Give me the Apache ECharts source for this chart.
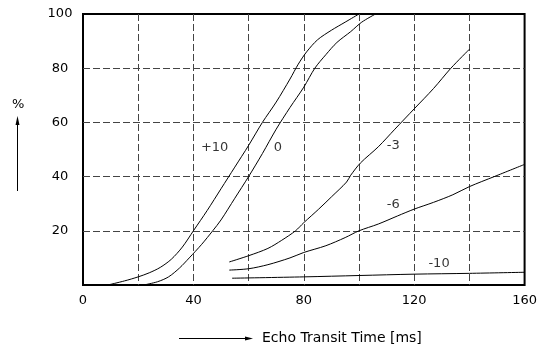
<!DOCTYPE html>
<html>
<head>
<meta charset="utf-8">
<script src="https://cdn.jsdelivr.net/npm/echarts@6/dist/echarts.min.js"></script>
<style>
  html, body { margin: 0; padding: 0; background: #fff; }
  #chart { width: 540px; height: 349px; }
</style>
</head>
<body>
<div id="chart"></div>
<script>
// Echo detection probability (%) vs. echo transit time (ms), one curve per level setting
const curvePlus10 = [[9,0],[15,1.5],[20,3],[24,4.5],[28,6.5],[32,9.5],[36,14],[40,20],[45,27.5],[50,35.5],[55,43.5],[60,51.5],[65,60],[70,67.5],[75,76],[78,81.5],[81,86],[85,90.5],[90,94],[95,97],[100,100]];
const curve0 = [[22,0],[27,1.2],[31,3],[35,6.3],[38.5,10],[43,15],[47,20],[50,24],[55,32],[60,40],[65,48.5],[70,57.5],[75,65.5],[80,73],[84,80],[88,85],[92,89.5],[97,93.5],[101,97],[106,100]];
const curveMinus3 = [[53,8.5],[60,10.8],[67,13.5],[72,16.5],[77,20],[80,23],[85.4,28],[90,32.5],[95.5,38],[97,40.5],[100.5,45],[107,51],[113,57.5],[120,65],[127,72.5],[133.3,80],[140,87]];
const curveMinus6 = [[53,5.5],[60,6],[67,7.5],[75,10],[80,12],[88,14.5],[95,17.5],[100,20],[107,22.5],[114,25.5],[120,28],[127,30.5],[134,33.3],[140,36.3],[149,40],[160,44.5]];
const curveMinus10 = [[54,2.5],[80,3],[100,3.5],[120,4],[140,4.3],[160,4.7]];

// Curve captions placed in data coordinates
const captionText = ['+10', '0', '-3', '-6', '-10'];
const captionX = [47.7, 70.6, 112.4, 112.4, 129];
const captionY = [50.7, 50.7, 51.5, 29.7, 7.9];

// Axis settings
const xMin = 0, xMax = 160, xStep = 20, xLabelStep = 40;
const yMin = 0, yMax = 100, yStep = 20;
const xTitle = 'Echo Transit Time [ms]';
const yTitle = '%';

const FONT = 'DejaVu Sans';

const chart = echarts.init(document.getElementById('chart'), null, { renderer: 'canvas' });

function curveSeries(data) {
  return {
    type: 'line',
    data: data,
    smooth: 0.3,
    showSymbol: false,
    symbol: 'none',
    lineStyle: { color: '#000', width: 1 },
    z: 3,
    silent: true
  };
}

const captionData = captionText.map((t, i) => ({ value: [captionX[i], captionY[i]], name: t }));

chart.setOption({
  animation: false,
  backgroundColor: '#fff',
  grid: {
    left: 83, right: 13, top: 14, bottom: 64,
    show: true, borderColor: '#000', borderWidth: 2, backgroundColor: 'transparent'
  },
  xAxis: {
    type: 'value',
    min: xMin, max: xMax, interval: xStep,
    axisLine: { show: false },
    axisTick: { show: false },
    axisLabel: {
      color: '#000', fontFamily: FONT, fontSize: 13, margin: 9,
      formatter: v => (v % xLabelStep === 0 ? String(v) : '')
    },
    splitLine: {
      show: true, showMinLine: false, showMaxLine: false,
      lineStyle: { color: '#444', width: 1, type: [7, 3] }
    }
  },
  yAxis: {
    type: 'value',
    min: yMin, max: yMax, interval: yStep,
    axisLine: { show: false },
    axisTick: { show: false },
    axisLabel: {
      color: '#000', fontFamily: FONT, fontSize: 13, margin: 23, align: 'center',
      formatter: v => (v === 0 ? '' : String(v))
    },
    splitLine: {
      show: true, showMinLine: false, showMaxLine: false,
      lineStyle: { color: '#444', width: 1, type: [7, 3] }
    }
  },
  series: [
    curveSeries(curvePlus10),
    curveSeries(curve0),
    curveSeries(curveMinus3),
    curveSeries(curveMinus6),
    curveSeries(curveMinus10),
    {
      type: 'scatter',
      data: captionData,
      symbolSize: 0,
      silent: true,
      z: 4,
      label: {
        show: true, position: 'inside',
        formatter: p => p.name,
        color: '#000', fontFamily: FONT, fontSize: 13
      }
    }
  ],
  graphic: [
    // vertical axis title with upward arrow
    { type: 'text', left: 12, top: 98, style: { text: yTitle, fill: '#000', font: '13px "DejaVu Sans"' } },
    { type: 'line', shape: { x1: 17.5, y1: 191, x2: 17.5, y2: 124 }, style: { stroke: '#000', lineWidth: 1 } },
    { type: 'polygon', shape: { points: [[17.5, 116], [15.5, 125], [19.5, 125]] }, style: { fill: '#000' } },
    // horizontal axis title with rightward arrow
    { type: 'line', shape: { x1: 179, y1: 338.5, x2: 246, y2: 338.5 }, style: { stroke: '#000', lineWidth: 1 } },
    { type: 'polygon', shape: { points: [[253, 338.5], [245, 336.5], [245, 340.5]] }, style: { fill: '#000' } },
    { type: 'text', left: 262, top: 331, style: { text: xTitle, fill: '#000', font: '14px "DejaVu Sans"' } }
  ]
});
</script>
</body>
</html>
